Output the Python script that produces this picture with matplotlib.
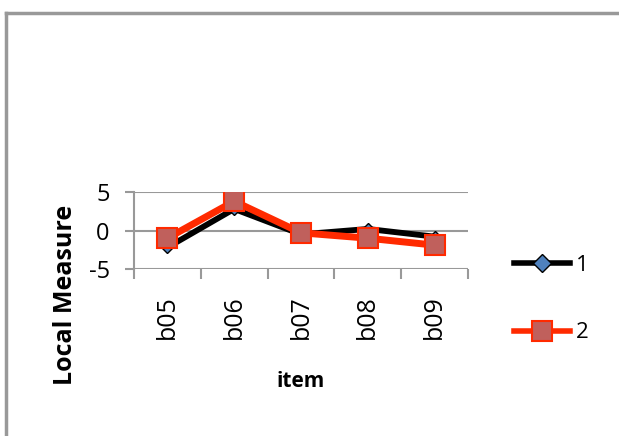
import matplotlib.pyplot as plt
from matplotlib.lines import Line2D
import numpy as np

plt.rcParams['font.family'] = ['Open Sans', 'DejaVu Sans']
plt.rcParams['axes.unicode_minus'] = False

items = ['b05', 'b06', 'b07', 'b08', 'b09']
series1 = [-2.2, 2.8, -0.5, 0.2, -0.8]
series2 = [-1.0, 3.8, -0.3, -1.0, -1.9]

fig = plt.figure(figsize=(6.19, 4.36), dpi=100)
ax = fig.add_axes([134/619, 1 - 269/436, 334/619, 77/436])

x = np.arange(len(items))
ax.plot(x, series1, color='black', lw=4.2, marker='D', ms=6,
        mfc='#4F81BD', mec='black', zorder=3)
ax.plot(x, series2, color='#FF2A00', lw=5, marker='s', ms=14,
        mfc='#C0605C', mec='#FF2A00', mew=1.5, zorder=4)

ax.set_xlim(-0.5, len(items) - 0.5)
ax.set_ylim(-5, 5)
ax.set_yticks([-5, 0, 5])
ax.grid(axis='y', color='#999999', lw=1.5)
ax.set_axisbelow(True)
for s in ['top', 'right', 'bottom']:
    ax.spines[s].set_visible(False)
ax.spines['left'].set_color('#999999')
ax.spines['left'].set_linewidth(1.5)
ax.tick_params(axis='y', length=6.5, width=1.5, color='#999999', labelsize=17, pad=11)

ax.set_xticks(x)
ax.set_xticklabels(items, rotation=90, fontsize=18)
ax.tick_params(axis='x', length=0, pad=19)
ax.set_xticks(np.arange(-0.5, len(items)), minor=True)
ax.tick_params(axis='x', which='minor', length=7, width=1.5, color='#999999')

fig.text(301/619, 1 - 381/436, 'item', fontsize=15, fontweight='bold',
         ha='center', va='center')
fig.text(65/619, 1 - 295/436, 'Local Measure', fontsize=18, fontweight='bold',
         ha='center', va='center', rotation=90)

handles = [
    Line2D([], [], color='black', lw=4, marker='D', ms=9, mfc='#4F81BD', mec='black'),
    Line2D([], [], color='#FF2A00', lw=4, marker='s', ms=14, mfc='#C0605C', mec='#FF2A00', mew=1.5),
]
leg = fig.legend(handles, ['1', '2'], loc='center left', bbox_to_anchor=(514/619, 1 - 299/436),
                 frameon=False, fontsize=16, handlelength=2.5, handletextpad=0.3,
                 labelspacing=2.1, borderpad=0, borderaxespad=0)

# chart area border (top and left visible)
fig.add_artist(Line2D([6/619, 1], [1 - 13/436, 1 - 13/436], color='#999999', lw=2.5))
fig.add_artist(Line2D([6/619, 6/619], [0, 1 - 13/436], color='#999999', lw=2.5))

fig.savefig('out.png', dpi=100)
